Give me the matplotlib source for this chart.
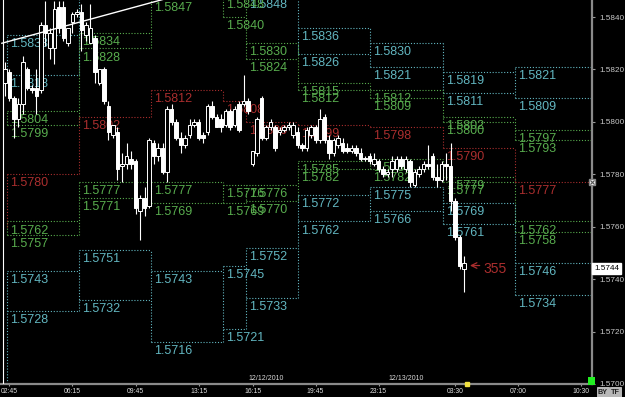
import matplotlib.pyplot as plt
from matplotlib.patches import Rectangle
from matplotlib.transforms import Bbox, TransformedBbox

plt.rcParams['font.family'] = ['Liberation Sans', 'DejaVu Sans']

# 15 min candles (bar index = position on the x axis)
opens = [1.5815, 1.5819, 1.5809, 1.5801, 1.5807, 1.5820, 1.5813, 1.5813, 1.5812, 1.5837,
         1.5828, 1.5828, 1.5844, 1.5844, 1.5830, 1.5838, 1.5841, 1.5842, 1.5833, 1.5830,
         1.5832, 1.5815, 1.5820, 1.5806, 1.5795, 1.5796, 1.5783, 1.5784, 1.5786, 1.5785,
         1.5766, 1.5771, 1.5768, 1.5792, 1.5787, 1.5790, 1.5781, 1.5805, 1.5800, 1.5794,
         1.5791, 1.5795, 1.5799, 1.5800, 1.5795, 1.5796, 1.5806, 1.5802, 1.5801, 1.5799,
         1.5804, 1.5799, 1.5807, 1.5807, 1.5808, 1.5784, 1.5788, 1.5809, 1.5794, 1.5798,
         1.5798, 1.5796, 1.5797, 1.5798, 1.5795, 1.5796, 1.5791, 1.5790, 1.5795, 1.5798,
         1.5793, 1.5802, 1.5793, 1.5788, 1.5791, 1.5792, 1.5790, 1.5789, 1.5790, 1.5788,
         1.5786, 1.5787, 1.5784, 1.5785, 1.5782, 1.5780, 1.5782, 1.5782, 1.5786, 1.5782,
         1.5785, 1.5776, 1.5780, 1.5782, 1.5784, 1.5787, 1.5779, 1.5778, 1.5784, 1.5783,
         1.5770, 1.5756, 1.5744]
highs = [1.5823, 1.5820, 1.5810, 1.5809, 1.5825, 1.5821, 1.5814, 1.5820, 1.5838, 1.5846,
         1.5836, 1.5846, 1.5846, 1.5846, 1.5836, 1.5842, 1.5843, 1.5845, 1.5838, 1.5845,
         1.5833, 1.5820, 1.5821, 1.5808, 1.5799, 1.5798, 1.5788, 1.5792, 1.5789, 1.5786,
         1.5772, 1.5775, 1.5794, 1.5793, 1.5792, 1.5792, 1.5806, 1.5807, 1.5801, 1.5796,
         1.5795, 1.5801, 1.5801, 1.5801, 1.5796, 1.5807, 1.5808, 1.5803, 1.5803, 1.5805,
         1.5805, 1.5806, 1.5808, 1.5818, 1.5809, 1.5789, 1.5802, 1.5810, 1.5799, 1.5801,
         1.5799, 1.5798, 1.5799, 1.5800, 1.5800, 1.5798, 1.5792, 1.5798, 1.5799, 1.5799,
         1.5805, 1.5803, 1.5795, 1.5794, 1.5795, 1.5794, 1.5792, 1.5791, 1.5791, 1.5790,
         1.5787, 1.5788, 1.5788, 1.5786, 1.5783, 1.5782, 1.5787, 1.5787, 1.5787, 1.5787,
         1.5786, 1.5782, 1.5783, 1.5785, 1.5791, 1.5788, 1.5784, 1.5785, 1.5788, 1.5792,
         1.5771, 1.5757, 1.5749]
lows = [1.5810, 1.5808, 1.5794, 1.5798, 1.5803, 1.5812, 1.5811, 1.5803, 1.5811, 1.5829,
        1.5824, 1.5822, 1.5834, 1.5831, 1.5829, 1.5834, 1.5840, 1.5827, 1.5831, 1.5830,
        1.5815, 1.5814, 1.5807, 1.5793, 1.5794, 1.5778, 1.5777, 1.5782, 1.5782, 1.5765,
        1.5755, 1.5764, 1.5767, 1.5784, 1.5785, 1.5780, 1.5777, 1.5799, 1.5793, 1.5788,
        1.5790, 1.5794, 1.5798, 1.5793, 1.5792, 1.5795, 1.5801, 1.5798, 1.5796, 1.5798,
        1.5797, 1.5798, 1.5796, 1.5806, 1.5803, 1.5783, 1.5787, 1.5793, 1.5793, 1.5797,
        1.5789, 1.5795, 1.5796, 1.5797, 1.5794, 1.5790, 1.5789, 1.5789, 1.5794, 1.5792,
        1.5792, 1.5792, 1.5786, 1.5787, 1.5790, 1.5788, 1.5788, 1.5788, 1.5787, 1.5785,
        1.5785, 1.5784, 1.5783, 1.5781, 1.5779, 1.5779, 1.5779, 1.5781, 1.5782, 1.5781,
        1.5775, 1.5775, 1.5779, 1.5781, 1.5782, 1.5778, 1.5775, 1.5777, 1.5778, 1.5766,
        1.5755, 1.5744, 1.5735]
closes = [1.5820, 1.5809, 1.5801, 1.5807, 1.5823, 1.5813, 1.5812, 1.5810, 1.5837, 1.5834,
          1.5834, 1.5843, 1.5836, 1.5832, 1.5836, 1.5841, 1.5842, 1.5835, 1.5837, 1.5836,
          1.5819, 1.5820, 1.5808, 1.5796, 1.5799, 1.5782, 1.5784, 1.5787, 1.5784, 1.5767,
          1.5771, 1.5767, 1.5793, 1.5787, 1.5790, 1.5781, 1.5805, 1.5800, 1.5794, 1.5791,
          1.5794, 1.5799, 1.5800, 1.5794, 1.5794, 1.5806, 1.5802, 1.5798, 1.5798, 1.5804,
          1.5798, 1.5805, 1.5797, 1.5808, 1.5804, 1.5789, 1.5801, 1.5794, 1.5798, 1.5800,
          1.5790, 1.5797, 1.5798, 1.5799, 1.5799, 1.5791, 1.5790, 1.5797, 1.5798, 1.5793,
          1.5801, 1.5793, 1.5788, 1.5793, 1.5794, 1.5789, 1.5789, 1.5790, 1.5788, 1.5786,
          1.5786, 1.5785, 1.5786, 1.5782, 1.5780, 1.5781, 1.5785, 1.5786, 1.5783, 1.5786,
          1.5777, 1.5781, 1.5782, 1.5784, 1.5783, 1.5779, 1.5778, 1.5784, 1.5783, 1.5770,
          1.5756, 1.5745, 1.5746]

# pivot periods (edges in bar index) and their levels
period_edges = [0.5, 16.5, 32.5, 48.5, 53.5, 65, 81, 97.3, 113.3, 131]
cyan_hi_top = [1.5833, 1.5865, 1.5880, 1.5870, 1.5858, 1.5836, 1.5830, 1.5819, 1.5821]
cyan_hi_bot = [1.5818, 1.5855, 1.5868, 1.5860, 1.5848, 1.5826, 1.5821, 1.5811, 1.5809]
green_hi_top = [1.5804, 1.5834, 1.5856, 1.5848, 1.5830, 1.5815, 1.5812, 1.5802, 1.5797]
green_hi_bot = [1.5799, 1.5828, 1.5847, 1.5840, 1.5824, 1.5812, 1.5809, 1.5800, 1.5793]
red_mid = [1.5780, 1.5802, 1.5812, 1.5808, 1.5800, 1.5799, 1.5798, 1.5790, 1.5777]
green_lo_top = [1.5762, 1.5777, 1.5777, 1.5776, 1.5776, 1.5785, 1.5786, 1.5779, 1.5762]
green_lo_bot = [1.5757, 1.5771, 1.5769, 1.5769, 1.5770, 1.5782, 1.5782, 1.5777, 1.5758]
cyan_lo_top = [1.5743, 1.5751, 1.5743, 1.5745, 1.5752, 1.5772, 1.5775, 1.5769, 1.5746]
cyan_lo_bot = [1.5728, 1.5732, 1.5716, 1.5721, 1.5733, 1.5762, 1.5766, 1.5761, 1.5734]
red_before = 1.5760
cyan_lo_before = 1.5690

time_ticks = [1, 15, 29, 43, 55, 69, 83, 100, 114, 128]
time_labels = ['02:45', '06:15', '09:45', '13:15', '16:15', '19:45', '23:15', '03:30', '07:00', '10:30']
date_pos = [54, 85.3]
date_labels = ['12/12/2010', '12/13/2010']
price_ticks = [1.5700, 1.5720, 1.5740, 1.5760, 1.5780, 1.5800, 1.5820, 1.5840]

trend_x = [-0.7, 40]
trend_y = [1.5830, 1.5849]

last_price = 1.5744
arrow_bar = 102.7
arrow_text = '355'

CYAN = '#62b6c0'
GREEN = '#58ac4e'
RED = '#aa2e2e'
DOT = (0, (1, 1.6))
Y_TOP = 1.58465

fig = plt.figure(figsize=(6.25, 3.97), dpi=100, facecolor='black')
ax = fig.add_axes([0, 13 / 397, 592 / 625, 384 / 397], facecolor='black')
ax.set_xlim(-1.11, 130.44)
ax.set_ylim(1.5700, Y_TOP)


def level_labels(levels, color):
    for k, v in enumerate(levels):
        if v > Y_TOP + 0.0003:
            continue  # label would sit fully above the visible area
        ax.annotate(f'{v:.4f}', (period_edges[k], v), xytext=(2.2, -2.2),
                    textcoords='offset points', ha='left', va='top',
                    fontsize=9.0, color=color, annotation_clip=False,
                    clip_on=True, zorder=2)


def band(tops, bots, color, before=None):
    for k in range(len(tops)):
        ax.hlines([tops[k], bots[k]], period_edges[k], period_edges[k + 1],
                  colors=color, linestyles=DOT, lw=0.8, zorder=1)
    for k, xe in enumerate(period_edges):
        vals = []
        if k > 0:
            vals += [tops[k - 1], bots[k - 1]]
        elif before is not None:
            vals.append(before)
        if k < len(tops):
            vals += [tops[k], bots[k]]
        ax.vlines(xe, min(vals), max(vals), colors=color, linestyles=DOT, lw=0.8, zorder=1)
    level_labels(tops, color)
    level_labels(bots, color)


band(cyan_hi_top, cyan_hi_bot, CYAN)
band(green_hi_top, green_hi_bot, GREEN)
band(green_lo_top, green_lo_bot, GREEN)
band(cyan_lo_top, cyan_lo_bot, CYAN, before=cyan_lo_before)

# single red line, stepped
for k, v in enumerate(red_mid):
    ax.hlines(v, period_edges[k], period_edges[k + 1], colors=RED, linestyles=DOT, lw=0.8, zorder=1)
    prev = red_before if k == 0 else red_mid[k - 1]
    ax.vlines(period_edges[k], min(prev, v), max(prev, v), colors=RED, linestyles=DOT, lw=0.8, zorder=1)
level_labels(red_mid, RED)

# candles
xs = list(range(len(opens)))
ax.vlines(xs, lows, highs, colors='white', lw=0.8, zorder=3)
bottoms = [min(o, c) for o, c in zip(opens, closes)]
heights = [max(abs(c - o), 0.00004) for o, c in zip(opens, closes)]
faces = ['black' if c > o else 'white' for o, c in zip(opens, closes)]
ax.bar(xs, heights, bottom=bottoms, width=0.68, color=faces, edgecolor='white',
       linewidth=0.7, zorder=4)

# trend line and left marker line
ax.plot(trend_x, trend_y, color='white', lw=1.0, zorder=5)
ax.axvline(-0.55, color='white', lw=0.8, zorder=5)

# arrow + count at the last bar
ax.annotate('', xy=(arrow_bar, 1.57452), xytext=(arrow_bar + 3.4, 1.57452),
            arrowprops=dict(arrowstyle='->', color=RED, lw=0.9), zorder=6)
ax.text(arrow_bar + 3.6, 1.57440, arrow_text, color=RED, fontsize=10,
        va='center', ha='left', zorder=6)

# axes styling
for s in ['left', 'top']:
    ax.spines[s].set_visible(False)
for s in ['right', 'bottom']:
    ax.spines[s].set_color('#8a8a8a')
    ax.spines[s].set_linewidth(1.6)
ax.yaxis.tick_right()
ax.set_yticks(price_ticks)
ax.set_yticklabels([f'{p:.4f}' for p in price_ticks])
ax.tick_params(axis='y', colors='#9a9a9a', labelcolor='#c8c8c8', labelsize=5.9,
               length=2.5, width=0.8, pad=2.5)
ax.set_xticks(time_ticks)
ax.set_xticklabels(time_labels)
ax.tick_params(axis='x', colors='#9a9a9a', labelcolor='#e0e0e0', labelsize=4.9,
               length=1.5, width=0.8, pad=1.2)
clip = TransformedBbox(Bbox.from_extents(0, 0, 592 / 625, 1), fig.transFigure)
for lbl in ax.get_xticklabels():
    lbl.set_clip_box(clip)
    lbl.set_clip_on(True)

for xd, txt in zip(date_pos, date_labels):
    ax.annotate(txt, (xd, 1.5700), xytext=(0, 1.6), textcoords='offset points',
                ha='left', va='bottom', fontsize=5, color='#d8d8d8')

# last price box on the axis
ax.text(1.004, last_price, f'{last_price:.4f}', transform=ax.get_yaxis_transform(),
        ha='left', va='center', fontsize=5.9, color='black', clip_on=False,
        bbox=dict(boxstyle='square,pad=0.25', fc='white', ec='white'), zorder=7)

# small widgets
ax.plot([1.0], [red_mid[-1]], transform=ax.get_yaxis_transform(), marker='s', ms=5,
        mfc='white', mec='#888888', clip_on=False, zorder=7)
ax.plot([1.0], [red_mid[-1]], transform=ax.get_yaxis_transform(), marker='x', ms=3,
        mec='#555555', mew=0.8, clip_on=False, zorder=8)
ax.plot([arrow_bar], [1.5700], marker='s', ms=2.5, color='#f0e040', clip_on=False, zorder=7)
fig.patches.append(Rectangle((588 / 625, 12 / 397), 7 / 625, 8 / 397, transform=fig.transFigure,
                             fc='#22ee22', ec='none', zorder=8))
for xb, t in [(598, 'BY'), (611, 'TF')]:
    fig.text(xb / 625, 5 / 397, t, fontsize=5.2, color='#202020', ha='left', va='center',
             fontweight='bold',
             bbox=dict(boxstyle='square,pad=0.2', fc='#b8b8b8', ec='#e0e0e0', lw=0.5))

fig.savefig('out.png', dpi=100, facecolor='black')
